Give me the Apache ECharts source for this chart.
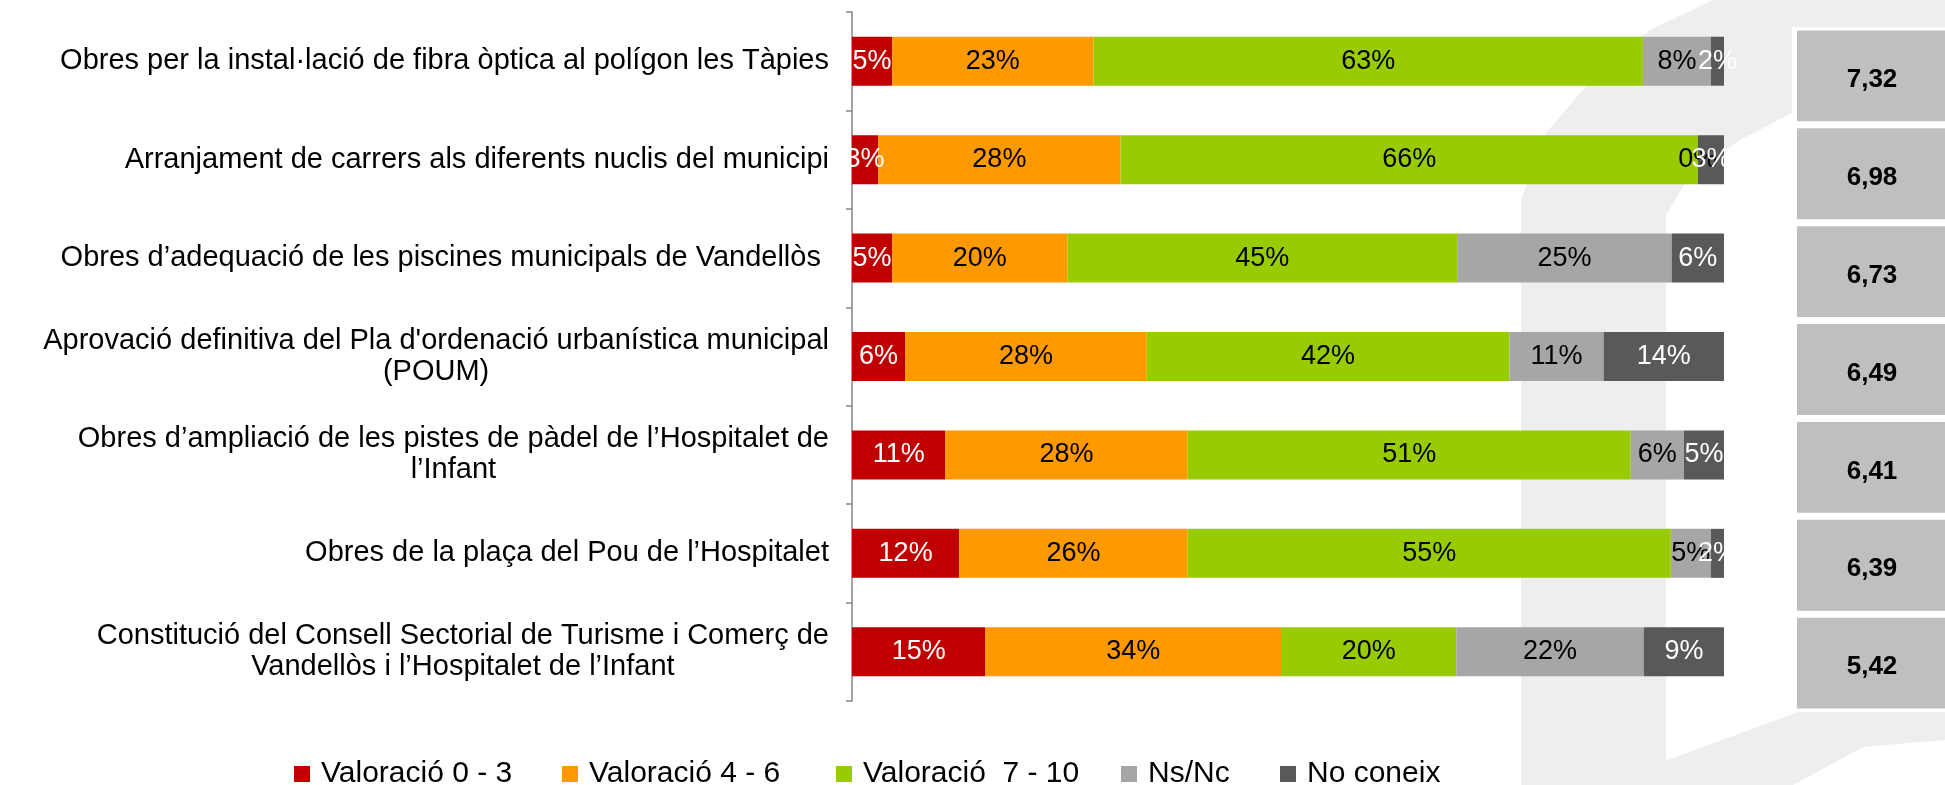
<!DOCTYPE html>
<html>
<head>
<meta charset="utf-8">
<script src="https://cdn.jsdelivr.net/npm/echarts@6/dist/echarts.min.js"></script>
<style>
html,body{margin:0;padding:0;background:#fff;}
#main{width:1945px;height:785px;}
</style>
</head>
<body>
<div id="main"></div>
<script>
// categories (top to bottom)
var categories = [
	'Obres per la instal·lació de fibra òptica al polígon les Tàpies',
	'Arranjament de carrers als diferents nuclis del municipi',
	'Obres d\u2019adequació de les piscines municipals de Vandellòs ',
	'Aprovació definitiva del Pla d\'ordenació urbanística municipal\n(POUM)',
	'Obres d\u2019ampliació de les pistes de pàdel de l\u2019Hospitalet de\nl\u2019Infant',
	'Obres de la plaça del Pou de l\u2019Hospitalet',
	'Constitució del Consell Sectorial de Turisme i Comerç de\nVandellòs i l\u2019Hospitalet de l\u2019Infant'
];
var seriesNames = ['Valoració 0 - 3', 'Valoració 4 - 6', 'Valoració  7 - 10', 'Ns/Nc', 'No coneix'];
// percentatges per fila
var val0_3  = [4.6, 3.0, 4.6, 6.1, 10.7, 12.3, 15.3];
var val4_6  = [23.1, 27.8, 20.1, 27.7, 27.8, 26.2, 33.9];
var val7_10 = [63.0, 66.2, 44.7, 41.6, 50.8, 55.4, 20.1];
var nsnc    = [7.8, 0, 24.6, 10.8, 6.1, 4.6, 21.5];
var noConeix = [1.5, 3.0, 6.0, 13.8, 4.6, 1.5, 9.2];
// nota mitjana
var scores = [7.32, 6.98, 6.73, 6.49, 6.41, 6.39, 5.42];

var colors = ['#C00000', '#FF9900', '#99CC00', '#A6A6A6', '#595959'];
var labelColors = ['#fff', '#000', '#000', '#000', '#fff'];
var allData = [val0_3, val4_6, val7_10, nsnc, noConeix];
var legendLeft = [289, 557, 831, 1116, 1275];

var chart = echarts.init(document.getElementById('main'));

var series = [];
for (var i = 0; i < seriesNames.length; i++) {
	series.push({
		name: seriesNames[i],
		type: 'bar',
		stack: 'total',
		barWidth: 49,
		xAxisIndex: 0,
		yAxisIndex: 0,
		itemStyle: {color: colors[i]},
		label: {
			show: true,
			position: 'inside',
			color: labelColors[i],
			fontFamily: '"Liberation Sans Narrow", "Liberation Sans", sans-serif',
			fontSize: 27,
			formatter: function (p) { return Math.round(p.value) + '%'; }
		},
		data: allData[i]
	});
}
// caselles de nota a la dreta
series.push({
	type: 'custom',
	xAxisIndex: 1,
	yAxisIndex: 1,
	encode: {x: 0, y: 1},
	renderItem: function (params, api) {
		var c = api.coord([0, api.value(1)]);
		var band = api.size([0, 1])[1];
		var h = band - 7;
		var left = params.coordSys.x + 5;
		var w = params.coordSys.width - 5;
		return {
			type: 'group',
			children: [{
				type: 'rect',
				shape: {x: left, y: c[1] - h / 2, width: w, height: h},
				style: {fill: '#BFBFBF'}
			}, {
				type: 'text',
				style: {
					text: api.value(2).toFixed(2).replace('.', ','),
					x: left + 75, y: c[1] + 4,
					align: 'center', verticalAlign: 'middle',
					font: 'bold 26px "Liberation Sans", sans-serif',
					fill: '#000'
				}
			}]
		};
	},
	data: scores.map(function (s, i) { return [0, i, s]; })
});

var legends = [];
for (var j = 0; j < seriesNames.length; j++) {
	legends.push({
		data: [seriesNames[j]],
		left: legendLeft[j],
		top: 754,
		icon: 'rect',
		itemWidth: 16,
		itemHeight: 16,
		selectedMode: false,
		textStyle: {
			fontSize: 30,
			color: '#000',
			fontFamily: '"Liberation Sans", sans-serif',
			padding: [0, 0, 0, 6]
		}
	});
}

var option = {
	animation: false,
	backgroundColor: '#fff',
	// marca d'aigua de fons
	graphic: [
		{type: 'polygon', z: -10, silent: true, shape: {points: [
			[1521, 785], [1521, 200], [1546, 133], [1600, 70], [1650, 30], [1713, 0], [1945, 0],
			[1945, 30], [1792, 30], [1792, 113], [1740, 140], [1690, 175], [1666, 215], [1666, 785]
		]}, style: {fill: '#EEEEEE'}},
		{type: 'polygon', z: -10, silent: true, shape: {points: [
			[1600, 785], [1798, 712], [1945, 712], [1945, 740], [1863, 747], [1793, 785]
		]}, style: {fill: '#EEEEEE'}}
	],
	legend: legends,
	grid: [
		{left: 852, right: 221, top: 12, height: 689},
		{left: 1792, right: 0, top: 27, height: 685, show: true, backgroundColor: '#fff', borderWidth: 0, z: 1}
	],
	xAxis: [
		{type: 'value', gridIndex: 0, min: 0, max: 100, show: false},
		{type: 'value', gridIndex: 1, min: 0, max: 1, show: false}
	],
	yAxis: [{
		type: 'category',
		gridIndex: 0,
		inverse: true,
		data: categories,
		axisLine: {show: true, lineStyle: {color: '#868686', width: 1.5}},
		axisTick: {show: true, length: 6, lineStyle: {color: '#868686', width: 1.5}},
		axisLabel: {
			margin: 23,
			align: 'right',
			color: '#000',
			fontSize: 29,
			lineHeight: 31,
			fontFamily: '"Liberation Sans", sans-serif',
			formatter: function (v) {
				return v.split('\n').map(function (s) { return '{a|' + s + '}'; }).join('\n');
			},
			rich: {a: {align: 'center', fontSize: 29, lineHeight: 31, color: '#000', fontFamily: '"Liberation Sans", sans-serif'}}
		}
	}, {
		type: 'category',
		gridIndex: 1,
		inverse: true,
		data: categories.map(function (c, i) { return i; }),
		show: false
	}],
	series: series
};
chart.setOption(option);
</script>
</body>
</html>
